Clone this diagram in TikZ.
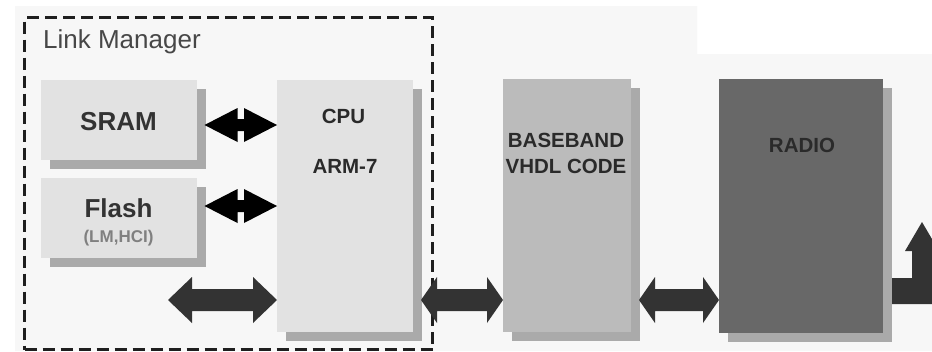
\documentclass[tikz,border=0pt]{standalone}
\usepackage{fontspec}
\setmainfont{Liberation Sans}
\usetikzlibrary{calc,shadows}
\definecolor{bgc}{HTML}{F7F7F7}
\definecolor{lightbox}{HTML}{E2E2E2}
\definecolor{midbox}{HTML}{BBBBBB}
\definecolor{darkbox}{HTML}{686868}
\definecolor{shadowc}{HTML}{AAAAAA}
\definecolor{txt}{HTML}{2A2A2A}
\definecolor{arrowdark}{HTML}{333333}
\newcommand\harrow[6]{% left, right, head length, head half width, shaft half width, colour
  \fill[#6] (#1) -- ++(#3,#4) -- ++(0,-#4+#5) -- ($(#2)+(-#3,#5)$) -- ++(0,#4-#5) -- (#2)
    -- ++(-#3,-#4) -- ++(0,#4-#5) -- ($(#1)+(#3,-#5)$) -- ++(0,-#4+#5) -- cycle;}
\tikzset{
  blk/.style={inner sep=0pt, outer sep=0pt, anchor=north west,
    drop shadow={shadow xshift=8.5pt, shadow yshift=-9pt, fill=shadowc, opacity=1}},
  lbl/.style={font=\bfseries\fontsize{20.5}{22}\selectfont, text=txt, inner sep=0pt, anchor=base},
}
\begin{document}
\begin{tikzpicture}[x=1pt,y=-1pt]
\clip (0,0) rectangle (932,351);
\fill[white] (0,0) rectangle (932,351);
\fill[bgc] (15,6) -- (697,6) -- (697,54) -- (932,54) -- (932,351) -- (15,351) -- cycle;

% Link manager frame
\node (lm) [draw=black!88, line width=3.2pt, dash pattern=on 12pt off 6pt, inner sep=0pt, anchor=north west,
  minimum width=408pt, minimum height=332pt] at (23,16) {};
\node (lmt) [font=\fontsize{26}{28}\selectfont, text=black!72, anchor=base west, inner sep=0pt] at (43,48) {Link Manager};

% blocks
\node (sram) [blk, fill=lightbox, minimum width=156pt, minimum height=80pt] at (41,80) {};
\node (flash) [blk, fill=lightbox, minimum width=156pt, minimum height=80pt] at (41,178) {};
\node (cpu) [blk, fill=lightbox, minimum width=136pt, minimum height=252pt] at (277,80) {};
\node (bb) [blk, fill=midbox, minimum width=128pt, minimum height=253pt] at (503,79) {};
\node (radio) [blk, fill=darkbox, minimum width=164pt, minimum height=254pt] at (719,79) {};

% texts
\node (t1) [lbl, font=\bfseries\fontsize{26}{28}\selectfont, text=black!80] at (118.5,130) {SRAM};
\node (t2) [lbl, font=\bfseries\fontsize{26}{28}\selectfont, text=black!80] at (118.5,217) {Flash};
\node (t3) [lbl, font=\bfseries\fontsize{17}{19}\selectfont, text=black!50] at (118.5,242) {(LM,HCI)};
\node (t4) [lbl] at (343.5,123) {CPU};
\node (t5) [lbl] at (345,173) {ARM-7};
\node (t6) [lbl] at (566,147) {BASEBAND};
\node (t7) [lbl] at (566,173) {VHDL CODE};
\node (t8) [lbl] at (802,152) {RADIO};

% connector end points
\coordinate (a1l) at ([xshift=7.5pt,yshift=-5pt]sram.east);
\coordinate (a1r) at (a1l -| cpu.west);
\coordinate (a2l) at ([xshift=7.5pt,yshift=-28pt]flash.north east);
\coordinate (a2r) at (a2l -| cpu.west);
\coordinate (b1r) at ([yshift=32pt]cpu.south west);
\coordinate (b1l) at (168,300);
\coordinate (b2l) at ([xshift=8pt]b1r -| cpu.east);
\coordinate (b2r) at (b1r -| bb.west);
\coordinate (b3l) at ([xshift=8pt]b1r -| bb.east);
\coordinate (b3r) at (b1r -| radio.west);
\coordinate (out) at (922,222);

% connectors
\harrow{a1l}{a1r}{33}{17}{6}{black}
\harrow{a2l}{a2r}{33}{17}{6}{black}
\harrow{b1l}{b1r}{24}{23}{11}{arrowdark}
\harrow{b2l}{b2r}{16}{23}{11}{arrowdark}
\harrow{b3l}{b3r}{16}{23}{11}{arrowdark}
\fill[arrowdark] ([xshift=9pt,yshift=13pt]radio.south east |- out) coordinate (o0)
  (o0 |- 0,278) -- (912,278) -- (912,251) -- (905,251) -- (out) -- (939,251) -- (932,251)
  -- (932,304) -- (o0 |- 0,304) -- cycle;
\end{tikzpicture}
\end{document}
